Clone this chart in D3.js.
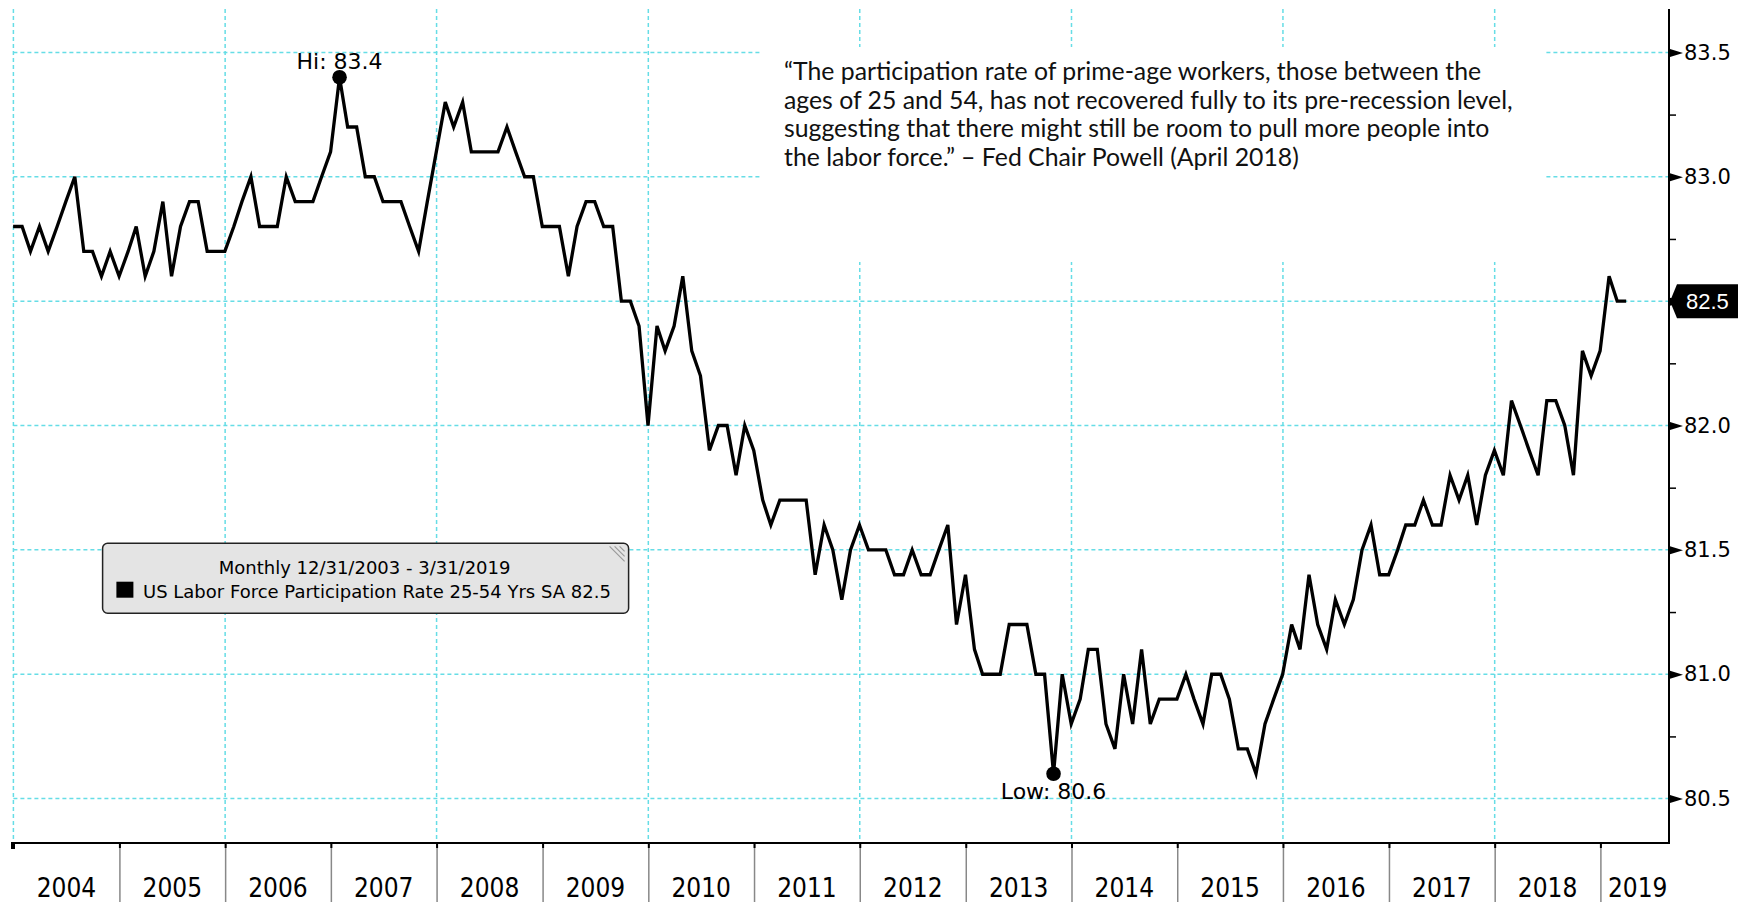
<!DOCTYPE html>
<html>
<head>
<meta charset="utf-8">
<script src="https://cdn.jsdelivr.net/npm/d3@7"></script>
<style>
  body { margin: 0; background: #fff; }
  svg { display: block; }
</style>
</head>
<body>
<div id="chart"></div>
<script>
// US labor force participation rate 25-54, monthly, Dec 2003 .. Mar 2019
const rate2003 = [82.8];
const rate2004 = [82.8, 82.7, 82.8, 82.7, 82.8, 82.9, 83.0, 82.7, 82.7, 82.6, 82.7, 82.6];
const rate2005 = [82.7, 82.8, 82.6, 82.7, 82.9, 82.6, 82.8, 82.9, 82.9, 82.7, 82.7, 82.7];
const rate2006 = [82.8, 82.9, 83.0, 82.8, 82.8, 82.8, 83.0, 82.9, 82.9, 82.9, 83.0, 83.1];
const rate2007 = [83.4, 83.2, 83.2, 83.0, 83.0, 82.9, 82.9, 82.9, 82.8, 82.7, 82.9, 83.1];
const rate2008 = [83.3, 83.2, 83.3, 83.1, 83.1, 83.1, 83.1, 83.2, 83.1, 83.0, 83.0, 82.8];
const rate2009 = [82.8, 82.8, 82.6, 82.8, 82.9, 82.9, 82.8, 82.8, 82.5, 82.5, 82.4, 82.0];
const rate2010 = [82.4, 82.3, 82.4, 82.6, 82.3, 82.2, 81.9, 82.0, 82.0, 81.8, 82.0, 81.9];
const rate2011 = [81.7, 81.6, 81.7, 81.7, 81.7, 81.7, 81.4, 81.6, 81.5, 81.3, 81.5, 81.6];
const rate2012 = [81.5, 81.5, 81.5, 81.4, 81.4, 81.5, 81.4, 81.4, 81.5, 81.6, 81.2, 81.4];
const rate2013 = [81.1, 81.0, 81.0, 81.0, 81.2, 81.2, 81.2, 81.0, 81.0, 80.6, 81.0, 80.8];
const rate2014 = [80.9, 81.1, 81.1, 80.8, 80.7, 81.0, 80.8, 81.1, 80.8, 80.9, 80.9, 80.9];
const rate2015 = [81.0, 80.9, 80.8, 81.0, 81.0, 80.9, 80.7, 80.7, 80.6, 80.8, 80.9, 81.0];
const rate2016 = [81.2, 81.1, 81.4, 81.2, 81.1, 81.3, 81.2, 81.3, 81.5, 81.6, 81.4, 81.4];
const rate2017 = [81.5, 81.6, 81.6, 81.7, 81.6, 81.6, 81.8, 81.7, 81.8, 81.6, 81.8, 81.9];
const rate2018 = [81.8, 82.1, 82.0, 81.9, 81.8, 82.1, 82.1, 82.0, 81.8, 82.3, 82.2, 82.3];
const rate2019 = [82.6, 82.5, 82.5];

const years = d3.range(2004, 2020);
const yTicks = [80.5, 81.0, 81.5, 82.0, 82.5, 83.0, 83.5];
const yMinor = [80.75, 81.25, 81.75, 82.25, 82.75, 83.25];

const quoteLines = [
  '\u201CThe participation rate of prime-age workers, those between the',
  'ages of 25 and 54, has not recovered fully to its pre-recession level,',
  'suggesting that there might still be room to pull more people into',
  'the labor force.\u201D \u2013 Fed Chair Powell (April 2018)'
];
const legendLines = [
  'Monthly 12/31/2003 - 3/31/2019',
  'US Labor Force Participation Rate 25-54 Yrs SA 82.5'
];

const W = 1749, H = 902;
const plotLeft = 11, plotRight = 1669, plotTop = 9, plotBottom = 843;
const gridColor = '#66dde6';
const narrow = "'Liberation Sans Narrow', 'DejaVu Sans Condensed', sans-serif";

const rates = [].concat(rate2003, rate2004, rate2005, rate2006, rate2007, rate2008,
  rate2009, rate2010, rate2011, rate2012, rate2013, rate2014, rate2015, rate2016,
  rate2017, rate2018, rate2019);
// end of month: new Date(2004, 0, 0) is 31 Dec 2003
const data = rates.map((v, i) => ({ date: new Date(2004, i, 0), value: v }));

const x = d3.scaleTime()
  .domain([new Date(2004, 0, 1), new Date(2019, 0, 1)])
  .range([13.4, 1600.4]);
const y = d3.scaleLinear()
  .domain([80.5, 83.5])
  .range([798.6, 52.4]);

const svg = d3.select('#chart').append('svg')
  .attr('width', W)
  .attr('height', H);

svg.append('rect').attr('width', W).attr('height', H).attr('fill', '#fff');

// grid
const grid = svg.append('g')
  .attr('stroke', gridColor)
  .attr('stroke-width', 1.5)
  .attr('stroke-dasharray', '4,3');

grid.selectAll('.hgrid')
  .data(yTicks)
  .enter().append('line')
  .attr('x1', x(new Date(2004, 0, 1)))
  .attr('x2', plotRight)
  .attr('y1', d => y(d))
  .attr('y2', d => y(d));

grid.selectAll('.vgrid')
  .data(years.filter(d => d % 2 === 0))
  .enter().append('line')
  .attr('x1', d => x(new Date(d, 0, 1)))
  .attr('x2', d => x(new Date(d, 0, 1)))
  .attr('y1', plotTop)
  .attr('y2', plotBottom);

// quote box hides the grid behind it
svg.append('rect')
  .attr('x', 762).attr('y', 47)
  .attr('width', 782).attr('height', 215)
  .attr('fill', '#fff');

svg.append('g')
  .selectAll('text')
  .data(quoteLines)
  .enter().append('text')
  .attr('x', 784)
  .attr('y', (d, i) => 80 + i * 28.7)
  .attr('font-family', 'Lato, sans-serif')
  .attr('font-size', 24.8)
  .attr('fill', '#111')
  .text(d => d);

// series line
const line = d3.line()
  .x(d => x(d.date))
  .y(d => y(d.value));

svg.append('path')
  .datum(data)
  .attr('fill', 'none')
  .attr('stroke', '#000')
  .attr('stroke-width', 3.3)
  .attr('stroke-linejoin', 'miter')
  .attr('d', line);

// hi / low markers
const hi = data[d3.maxIndex(data, d => d.value)];
const lo = data[d3.minIndex(data, d => d.value)];
const marks = [
  { p: hi, label: 'Hi: ' + hi.value.toFixed(1), dy: -8 },
  { p: lo, label: 'Low: ' + lo.value.toFixed(1), dy: 25 }
];

const mg = svg.append('g');
mg.selectAll('circle')
  .data(marks)
  .enter().append('circle')
  .attr('cx', d => x(d.p.date))
  .attr('cy', d => y(d.p.value))
  .attr('r', 7.3)
  .attr('fill', '#000');
mg.selectAll('text')
  .data(marks)
  .enter().append('text')
  .attr('x', d => x(d.p.date))
  .attr('y', d => y(d.p.value) + d.dy)
  .attr('text-anchor', 'middle')
  .attr('font-family', "'DejaVu Sans', sans-serif")
  .attr('font-size', 22)
  .attr('fill', '#000')
  .text(d => d.label);

// bottom axis: year separators
const sepAxis = d3.axisBottom(x)
  .tickValues(years.slice(1).map(d => new Date(d, 0, 1)))
  .tickSize(H - plotBottom)
  .tickFormat('');
const gx = svg.append('g')
  .attr('transform', 'translate(0,' + plotBottom + ')')
  .call(sepAxis);
gx.select('.domain').remove();
gx.selectAll('.tick line').attr('stroke', '#888').attr('stroke-width', 1.5);
gx.selectAll('.tick').append('line')
  .attr('y2', 5).attr('stroke', '#000').attr('stroke-width', 2);

svg.append('line')
  .attr('x1', plotLeft).attr('x2', plotRight + 1)
  .attr('y1', plotBottom).attr('y2', plotBottom)
  .attr('stroke', '#000').attr('stroke-width', 2);
svg.append('rect')
  .attr('x', plotLeft).attr('y', plotBottom)
  .attr('width', 4).attr('height', 6)
  .attr('fill', '#000');

svg.append('g')
  .selectAll('text')
  .data(years)
  .enter().append('text')
  .attr('x', d => (x(new Date(d, 0, 1)) + Math.min(x(new Date(d + 1, 0, 1)), plotRight + 6)) / 2)
  .attr('y', 897)
  .attr('text-anchor', 'middle')
  .attr('font-family', narrow)
  .attr('font-size', 26)
  .attr('fill', '#000')
  .text(d => d);

// right axis
svg.append('line')
  .attr('x1', plotRight).attr('x2', plotRight)
  .attr('y1', plotTop).attr('y2', plotBottom + 1)
  .attr('stroke', '#000').attr('stroke-width', 2);

const minorAxis = d3.axisRight(y).tickValues(yMinor).tickSize(7).tickFormat('');
const gm = svg.append('g')
  .attr('transform', 'translate(' + plotRight + ',0)')
  .call(minorAxis);
gm.select('.domain').remove();
gm.selectAll('.tick line').attr('stroke', '#000').attr('stroke-width', 1.5);

const yAxis = d3.axisRight(y)
  .tickValues(yTicks)
  .tickSize(0)
  .tickPadding(15)
  .tickFormat(d3.format('.1f'));
const gy = svg.append('g')
  .attr('transform', 'translate(' + plotRight + ',0)')
  .call(yAxis);
gy.select('.domain').remove();
gy.selectAll('.tick').append('path')
  .attr('d', 'M1,-4L14,0L1,4Z')
  .attr('fill', '#000');
gy.selectAll('.tick text')
  .attr('font-family', "'DejaVu Sans', sans-serif")
  .attr('font-size', 21)
  .attr('fill', '#000');

// last value tag
const last = data[data.length - 1];
const ly = y(last.value);
const tag = svg.append('g').attr('transform', 'translate(' + plotRight + ',' + ly + ')');
tag.append('path')
  .attr('d', 'M1,0L8,-17L69,-17L69,17L8,17Z')
  .attr('fill', '#000');
tag.append('text')
  .attr('x', 17)
  .attr('y', 0)
  .attr('dy', '0.35em')
  .attr('font-family', "'Liberation Sans', sans-serif")
  .attr('font-size', 22)
  .attr('fill', '#fff')
  .text(last.value.toFixed(1));

// legend
const lg = svg.append('g').attr('transform', 'translate(102.6,543.3)');
lg.append('rect')
  .attr('width', 526).attr('height', 70).attr('rx', 5)
  .attr('fill', '#e4e4e4')
  .attr('stroke', '#222').attr('stroke-width', 1.5);
lg.selectAll('.grip')
  .data([0, 5, 10])
  .enter().append('line')
  .attr('x1', d => 507 + d).attr('y1', 3)
  .attr('x2', 522).attr('y2', d => 18 - d)
  .attr('stroke', '#999').attr('stroke-width', 1.2);
lg.append('text')
  .attr('x', 262).attr('y', 31)
  .attr('text-anchor', 'middle')
  .attr('font-family', "'DejaVu Sans', sans-serif")
  .attr('font-size', 18)
  .attr('fill', '#000')
  .text(legendLines[0]);
lg.append('rect')
  .attr('x', 13.8).attr('y', 38.4)
  .attr('width', 17).attr('height', 16)
  .attr('fill', '#000');
lg.append('text')
  .attr('x', 40.4).attr('y', 55)
  .attr('font-family', "'DejaVu Sans', sans-serif")
  .attr('font-size', 18)
  .attr('fill', '#000')
  .text(legendLines[1]);
</script>
</body>
</html>
